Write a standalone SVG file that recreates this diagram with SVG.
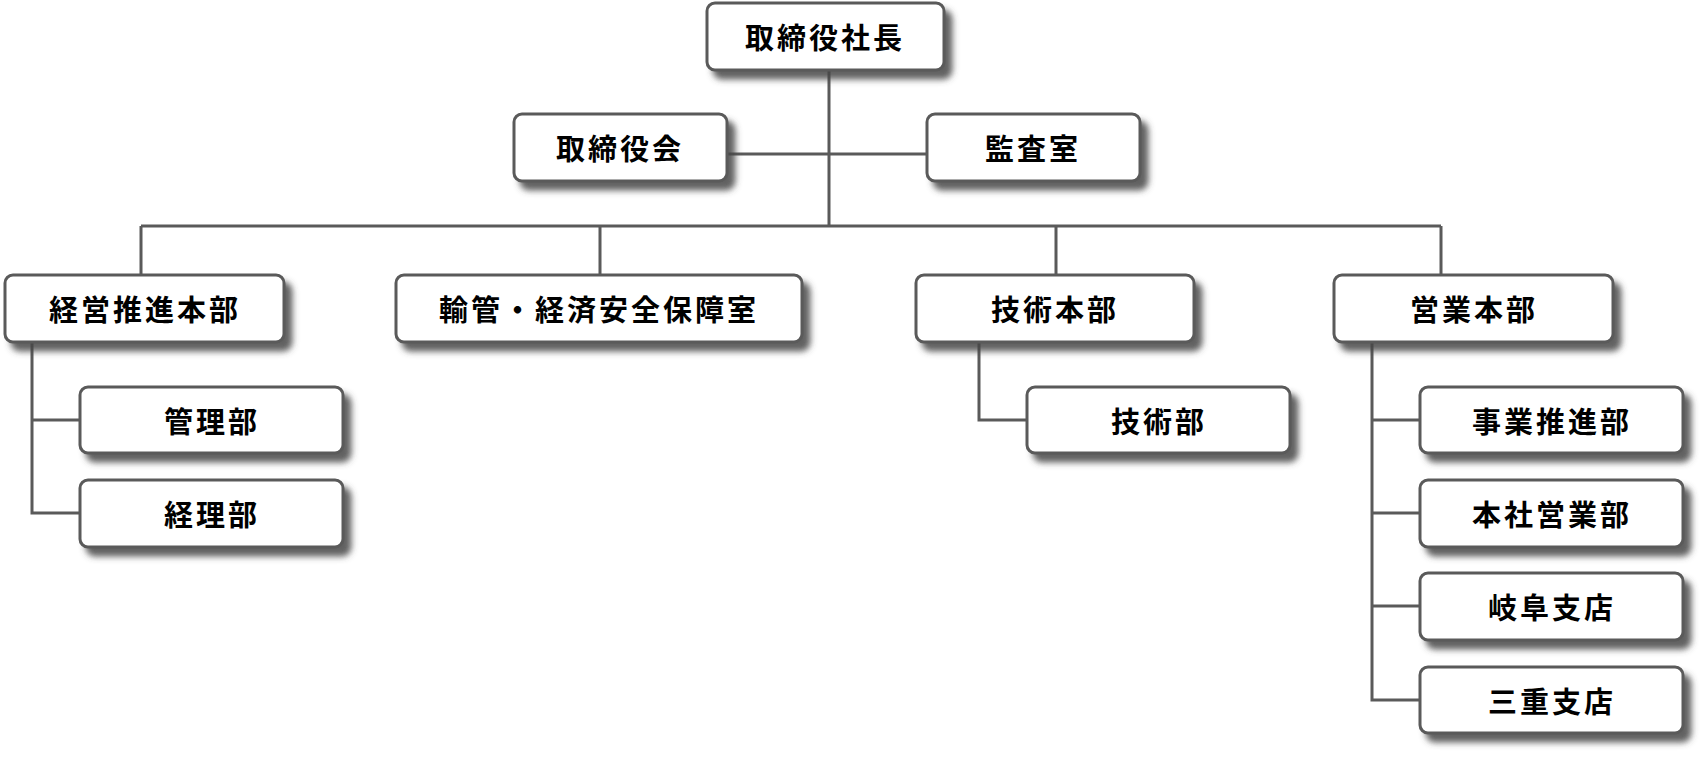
<svg xmlns="http://www.w3.org/2000/svg" width="1704" height="757" viewBox="0 0 1704 757">
<defs>
<filter id="sh" x="-10%" y="-20%" width="130%" height="160%"><feDropShadow dx="7" dy="8" stdDeviation="3" flood-color="#444" flood-opacity="0.85"/></filter>
<style>
.b{fill:#fff;stroke:#5a5a5a;stroke-width:3;filter:url(#sh)}
.t{font-family:"Noto Sans CJK JP",sans-serif;font-weight:bold;font-size:29px;letter-spacing:3px;text-anchor:middle;dominant-baseline:central;fill:#000}
.c{fill:none;stroke:#5a5a5a;stroke-width:3}
</style>
</defs>
<rect width="1704" height="757" fill="#fff"/>
<g id="connectors">
<path class="c" d="M829 70V226M727 154H927M141 226H1441M141 226V275M600 226V275M1056 226V275M1441 226V275"/>
<path class="c" d="M32 342V513H80M32 420H80"/>
<path class="c" d="M979 342V420H1027"/>
<path class="c" d="M1372 342V700H1420M1372 420H1420M1372 513H1420M1372 606H1420"/>
</g>
<g id="n1"><rect class="b" x="707" y="3" width="237" height="67" rx="8"/><text class="t" x="825" y="36">取締役社長</text></g>
<g id="n2"><rect class="b" x="514" y="114" width="213" height="67" rx="8"/><text class="t" x="620" y="147">取締役会</text></g>
<g id="n3"><rect class="b" x="927" y="114" width="213" height="67" rx="8"/><text class="t" x="1033" y="147">監査室</text></g>
<g id="n4"><rect class="b" x="5" y="275" width="279" height="67" rx="8"/><text class="t" x="145" y="308">経営推進本部</text></g>
<g id="n5"><rect class="b" x="396" y="275" width="406" height="67" rx="8"/><text class="t" x="599" y="308">輸管・経済安全保障室</text></g>
<g id="n6"><rect class="b" x="916" y="275" width="278" height="67" rx="8"/><text class="t" x="1055" y="308">技術本部</text></g>
<g id="n7"><rect class="b" x="1334" y="275" width="279" height="67" rx="8"/><text class="t" x="1474" y="308">営業本部</text></g>
<g id="n8"><rect class="b" x="80" y="387" width="263" height="66" rx="8"/><text class="t" x="212" y="420">管理部</text></g>
<g id="n9"><rect class="b" x="80" y="480" width="263" height="67" rx="8"/><text class="t" x="212" y="513">経理部</text></g>
<g id="n10"><rect class="b" x="1027" y="387" width="263" height="66" rx="8"/><text class="t" x="1159" y="420">技術部</text></g>
<g id="n11"><rect class="b" x="1420" y="387" width="263" height="66" rx="8"/><text class="t" x="1552" y="420">事業推進部</text></g>
<g id="n12"><rect class="b" x="1420" y="480" width="263" height="67" rx="8"/><text class="t" x="1552" y="513">本社営業部</text></g>
<g id="n13"><rect class="b" x="1420" y="573" width="263" height="67" rx="8"/><text class="t" x="1552" y="606">岐阜支店</text></g>
<g id="n14"><rect class="b" x="1420" y="667" width="263" height="66" rx="8"/><text class="t" x="1552" y="700">三重支店</text></g>
</svg>
